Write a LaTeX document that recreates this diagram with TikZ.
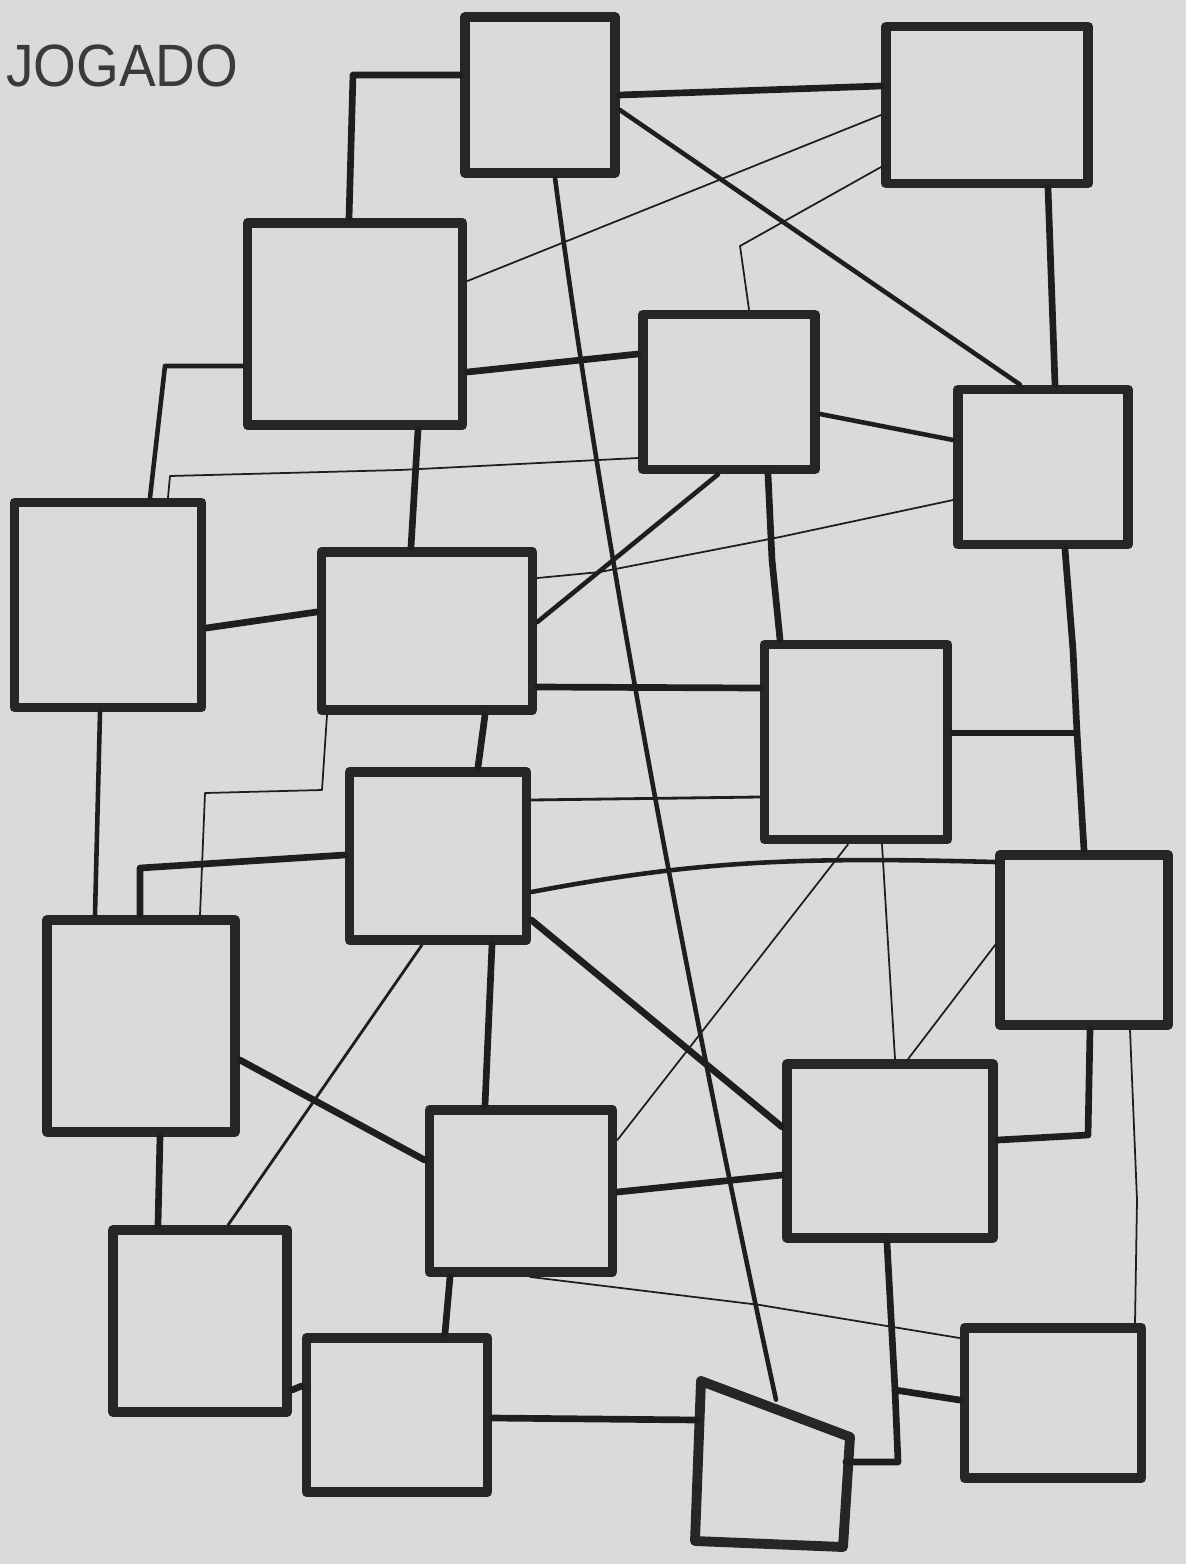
\documentclass[tikz,border=0pt]{standalone}
\usepackage{fontspec}
\newfontfamily\handfont{Liberation Sans}
\definecolor{paper}{HTML}{D9DBDA}
\definecolor{pen}{HTML}{1E1E1E}
\definecolor{boxpen}{HTML}{262626}
\definecolor{ink}{HTML}{3A3A3A}
\begin{document}
\begin{tikzpicture}[x=0.02cm,y=-0.02cm,
  box/.style={draw=boxpen, line width=5.6pt, rectangle, inner sep=0pt, line join=round},
  boxline/.style={draw=boxpen, line width=5.6pt, line join=round, line cap=round},
  heavy/.style={draw=pen, line width=3.8pt, line cap=round, line join=round},
  medium/.style={draw=pen, line width=2.6pt, line cap=round, line join=round},
  slim/.style={draw=pen, line width=1.6pt, line cap=round, line join=round},
  thin/.style={draw=pen, line width=1.0pt, line cap=round, line join=round}]
\fill[paper] (0,0) rectangle (1186,1564);
\useasboundingbox (0,0) rectangle (1186,1564);

% title
\node[anchor=west, inner sep=0pt, text=ink, font=\handfont\fontsize{34}{34}\selectfont, xscale=0.92] (title) at (6,66) {JOGADO};

% boxes
\node[box, minimum width=3.00cm, minimum height=3.12cm] (B1) at (540,95) {};
\node[box, minimum width=4.04cm, minimum height=3.14cm] (B2) at (987,105) {};
\node[box, minimum width=4.30cm, minimum height=4.04cm] (B3) at (355,324) {};
\node[box, minimum width=3.44cm, minimum height=3.10cm] (B4) at (729,392) {};
\node[box, minimum width=3.40cm, minimum height=3.10cm] (B5) at (1043,467) {};
\node[box, minimum width=3.74cm, minimum height=4.10cm] (B6) at (108,605) {};
\node[box, minimum width=4.22cm, minimum height=3.16cm] (B7) at (427,631) {};
\node[box, minimum width=3.66cm, minimum height=3.90cm] (B8) at (856,742) {};
\node[box, minimum width=3.54cm, minimum height=3.36cm] (B9) at (438,856) {};
\node[box, minimum width=3.36cm, minimum height=3.40cm] (B10) at (1084,940) {};
\node[box, minimum width=3.76cm, minimum height=4.24cm] (B11) at (141,1026) {};
\node[box, minimum width=3.66cm, minimum height=3.24cm] (B12) at (521,1191) {};
\node[box, minimum width=4.12cm, minimum height=3.48cm] (B13) at (890,1151) {};
\node[box, minimum width=3.48cm, minimum height=3.64cm] (B14) at (200,1321) {};
\node[box, minimum width=3.62cm, minimum height=3.08cm] (B15) at (397,1415) {};
\node[rectangle, inner sep=0pt, minimum width=2.94cm, minimum height=2.80cm] (B16) at (772,1470) {};
\draw[boxline] (701,1381) -- (850,1437) -- (843,1547) -- (695,1541) -- cycle;
\node[box, minimum width=3.54cm, minimum height=3.00cm] (B17) at (1053,1403) {};

% junction points
\coordinate (J1) at (1077,733);
\coordinate (J2) at (895,1390);

% connectors
\draw[heavy] (B1.west |- 0,75) -- (353,75) -- (B3.north -| 349,0);
\draw[heavy] (B1.east |- 0,95) -- (B2.west |- 0,86);
\draw[medium] (B1.east |- 0,110) -- (B5.north -| 1020,0);
\draw[medium] (B1.south -| 555,0) .. controls (605,560) and (700,1050) .. (B16.north -| 776,0);
\draw[thin] (B2.west |- 0,115) -- (B3.east |- 0,281);
\draw[thin] (B2.west |- 0,167) -- (740,246) -- (B4.north -| 749,0);
\draw[heavy] (B2.south -| 1048,0) -- (B5.north -| 1055,0);
\draw[medium] (B3.west |- 0,366) -- (165,366) -- (B6.north -| 150,0);
\draw[heavy] (B3.east |- 0,372) -- (B4.west |- 0,354);
\draw[heavy] (B3.south -| 418,0) -- (B7.north -| 411,0);
\draw[thin] (B4.west |- 0,458) -- (400,470) -- (170,476) -- (B6.north -| 168,0);
\draw[medium] (B4.east |- 0,414) -- (B5.west |- 0,440);
\draw[medium] (B4.south -| 718,0) -- (B7.east |- 0,622);
\draw[heavy] (B4.south -| 768,0) -- (772,560) -- (B8.north -| 780,0);
\draw[thin] (B5.west |- 0,500) -- (780,537) -- (600,572) -- (B7.east |- 0,578);
\draw[heavy] (B5.south -| 1065,0) -- (1073,650) -- (J1) -- (B10.north -| 1084,0);
\draw[heavy] (B8.east |- J1) -- (J1);
\draw[heavy] (B6.east |- 0,628) -- (B7.west |- 0,612);
\draw[medium] (B6.south -| 100,0) -- (B11.north -| 95,0);
\draw[thin] (B7.south -| 327,0) -- (322,790) -- (205,793) -- (B11.north -| 200,0);
\draw[heavy] (B8.west |- 0,688) -- (B7.east |- 0,687);
\draw[heavy] (B7.south -| 485,0) -- (B9.north -| 478,0);
\draw[slim] (B9.east |- 0,800) -- (B8.west |- 0,797);
\draw[heavy] (B9.west |- 0,855) -- (140,868) -- (B11.north -| 140,0);
\draw[medium] (B9.east |- 0,892) .. controls (700,860) and (800,857) .. (B10.west |- 0,862);
\draw[heavy] (B9.east |- 0,920) -- (B13.west |- 0,1127);
\draw[heavy] (B9.south -| 492,0) -- (B12.north -| 485,0);
\draw[slim] (B9.south -| 422,0) -- (B14.north -| 228,0);
\draw[thin] (B8.south -| 848,0) -- (B12.east |- 0,1140);
\draw[thin] (B8.south -| 882,0) -- (B13.north -| 895,0);
\draw[thin] (B10.west |- 0,945) -- (B13.north -| 908,0);
\draw[heavy] (B10.south -| 1090,0) -- (1088,1135) -- (B13.east |- 0,1140);
\draw[thin] (B10.south -| 1130,0) -- (1137,1200) -- (B17.north -| 1135,0);
\draw[heavy] (B11.east |- 0,1060) -- (B12.west |- 0,1160);
\draw[heavy] (B11.south -| 160,0) -- (B14.north -| 158,0);
\draw[heavy] (B12.east |- 0,1192) -- (B13.west |- 0,1175);
\draw[thin] (B12.south -| 530,0) -- (760,1305) -- (B17.west |- 0,1338);
\draw[heavy] (B12.south -| 450,0) -- (B15.north -| 445,0);
\draw[heavy] (B13.south -| 887,0) -- (J2) -- (898,1462) -- (B16.east |- 0,1462);
\draw[heavy] (J2) -- (B17.west |- 0,1400);
\draw[heavy] (B14.east |- 0,1390) -- (B15.west |- 0,1386);
\draw[heavy] (B15.east |- 0,1418) -- (B16.west |- 0,1420);
\end{tikzpicture}
\end{document}
